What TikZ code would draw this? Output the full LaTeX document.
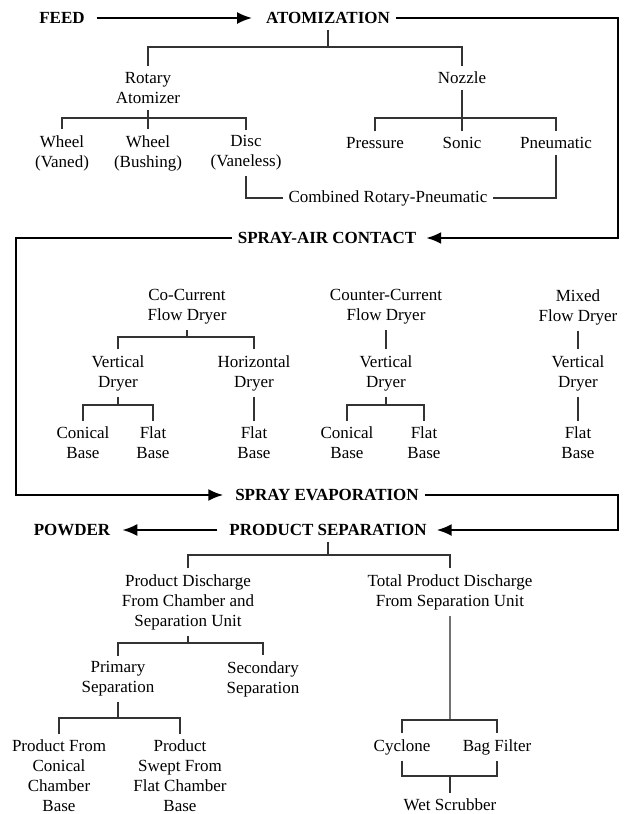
\documentclass[tikz,border=0pt]{standalone}
\usepackage{fontspec}
\setmainfont{Liberation Serif}
\usetikzlibrary{arrows.meta}
\begin{document}
\begin{tikzpicture}[x=1pt,y=-1pt,
  lab/.style={align=center,font=\fontsize{17}{20}\selectfont,inner sep=3pt,outer sep=3pt},
  head/.style={font=\fontsize{17}{20}\selectfont\bfseries,inner sep=3pt,outer sep=3pt},
  flow/.style={line width=2.3pt},
  flowarrow/.style={flow,-{Latex[length=15pt,width=12pt]}},
  tree/.style={line width=1.1pt,black!80},
]
\useasboundingbox[fill=white] (0,0) rectangle (626,814);

% main flow
\node[head] (feed) at (62,18) {FEED};
\node[head] (atom) at (328,18) {ATOMIZATION};
\node[head] (sac) at (327,238) {SPRAY-AIR CONTACT};
\node[head] (sev) at (327,495) {SPRAY EVAPORATION};
\node[head] (psep) at (328,530) {PRODUCT SEPARATION};
\node[head] (powder) at (72,530) {POWDER};

\coordinate (r2) at (618,238);
\coordinate (l2) at (16,495);
\coordinate (r3) at (618,530);

\draw[flowarrow,shorten <=6pt,shorten >=8pt] (feed) -- (atom);
\draw[flowarrow,shorten >=4pt] (atom.east) -| (r2) -- (sac.east);
\draw[flowarrow,shorten >=6pt] (sac.west) -| (l2) -- (sev.west);
\draw[flowarrow,shorten >=4pt] (sev.east) -| (r3) -- (psep.east);
\draw[flowarrow,shorten <=6pt,shorten >=6pt] (psep.west) -- (powder.east);

% atomization tree
\node[lab] (rot) at (148,88) {Rotary\\Atomizer};
\node[lab] (noz) at (462,78) {Nozzle};
\node[lab] (wv) at (62,153) {Wheel\\(Vaned)};
\node[lab] (wb) at (148,153) {Wheel\\(Bushing)};
\node[lab] (disc) at (246,153) {Disc\\(Vaneless)};
\node[lab] (pres) at (375,143) {Pressure};
\node[lab] (son) at (462,143) {Sonic};
\node[lab] (pneu) at (556,143) {Pneumatic};
\node[lab] (comb) at (388,198) {Combined Rotary-Pneumatic};

\coordinate (b1) at (0,47);
\coordinate (b2) at (0,118);
\draw[tree] (atom.south) -- (atom.south |- b1);
\draw[tree] (rot.north) -- (rot.north |- b1) -- (noz.north |- b1) -- (noz.north);
\draw[tree] (rot.south) -- (rot.south |- b2);
\draw[tree] (wv.north) -- (wv.north |- b2) -- (disc.north |- b2) -- (disc.north);
\draw[tree] (wb.north) -- (wb.north |- b2);
\draw[tree] (noz.south) -- (noz.south |- b2);
\draw[tree] (pres.north) -- (pres.north |- b2) -- (pneu.north |- b2) -- (pneu.north);
\draw[tree] (son.north) -- (son.north |- b2);
\draw[tree] (disc.south) |- (comb.west);
\draw[tree] (pneu.south) |- (comb.east);

% spray-air contact tree
\node[lab] (cof) at (187,307) {Co-Current\\Flow Dryer};
\node[lab] (vd1) at (118,373) {Vertical\\Dryer};
\node[lab] (hd) at (254,373) {Horizontal\\Dryer};
\node[lab] (cb1) at (83,443) {Conical\\Base};
\node[lab] (fb1) at (153,443) {Flat\\Base};
\node[lab] (fb2) at (254,443) {Flat\\Base};
\node[lab] (ccf) at (386,307) {Counter-Current\\Flow Dryer};
\node[lab] (vd2) at (386,373) {Vertical\\Dryer};
\node[lab] (cb2) at (347,443) {Conical\\Base};
\node[lab] (fb3) at (424,443) {Flat\\Base};
\node[lab] (mf) at (578,307) {Mixed\\Flow Dryer};
\node[lab] (vd3) at (578,373) {Vertical\\Dryer};
\node[lab] (fb4) at (578,443) {Flat\\Base};

\coordinate (b3) at (0,337);
\coordinate (b4) at (0,405);
\draw[tree] (cof.south) -- (cof.south |- b3);
\draw[tree] (vd1.north) -- (vd1.north |- b3) -- (hd.north |- b3) -- (hd.north);
\draw[tree] (vd1.south) -- (vd1.south |- b4);
\draw[tree] (cb1.north) -- (cb1.north |- b4) -- (fb1.north |- b4) -- (fb1.north);
\draw[tree] (hd.south) -- (fb2.north);
\draw[tree] (ccf.south) -- (vd2.north);
\draw[tree] (vd2.south) -- (vd2.south |- b4);
\draw[tree] (cb2.north) -- (cb2.north |- b4) -- (fb3.north |- b4) -- (fb3.north);
\draw[tree] (mf.south) -- (vd3.north);
\draw[tree] (vd3.south) -- (fb4.north);

% product separation tree
\node[lab] (pdc) at (188,602) {Product Discharge\\From Chamber and\\Separation Unit};
\node[lab] (tpd) at (450,592) {Total Product Discharge\\From Separation Unit};
\node[lab] (prim) at (118,679) {Primary\\Separation};
\node[lab] (sec) at (263,679) {Secondary\\Separation};
\node[lab] (pfc) at (59,776) {Product From\\Conical\\Chamber\\Base};
\node[lab] (psf) at (180,776) {Product\\Swept From\\Flat Chamber\\Base};
\node[lab] (cyc) at (402,747) {Cyclone};
\node[lab] (bag) at (497,747) {Bag Filter};
\node[lab] (wet) at (450,805) {Wet Scrubber};

\coordinate (b5) at (0,555);
\coordinate (b6) at (0,643);
\coordinate (b7) at (0,718);
\coordinate (b8) at (0,720);
\coordinate (b9) at (0,776);
\draw[tree] (psep.south) -- (psep.south |- b5);
\draw[tree] (pdc.north) -- (pdc.north |- b5) -- (tpd.north |- b5) -- (tpd.north);
\draw[tree] (pdc.south) -- (pdc.south |- b6);
\draw[tree] (prim.north) -- (prim.north |- b6) -- (sec.north |- b6) -- (sec.north);
\draw[tree] (prim.south) -- (prim.south |- b7);
\draw[tree] (pfc.north) -- (pfc.north |- b7) -- (psf.north |- b7) -- (psf.north);
\draw[tree,black!55] (tpd.south) -- (tpd.south |- b8);
\draw[tree] (cyc.north) -- (cyc.north |- b8) -- (bag.north |- b8) -- (bag.north);
\draw[tree] (cyc.south) -- (cyc.south |- b9) -- (bag.south |- b9) -- (bag.south);
\draw[tree] (wet.north) -- (wet.north |- b9);
\end{tikzpicture}
\end{document}
